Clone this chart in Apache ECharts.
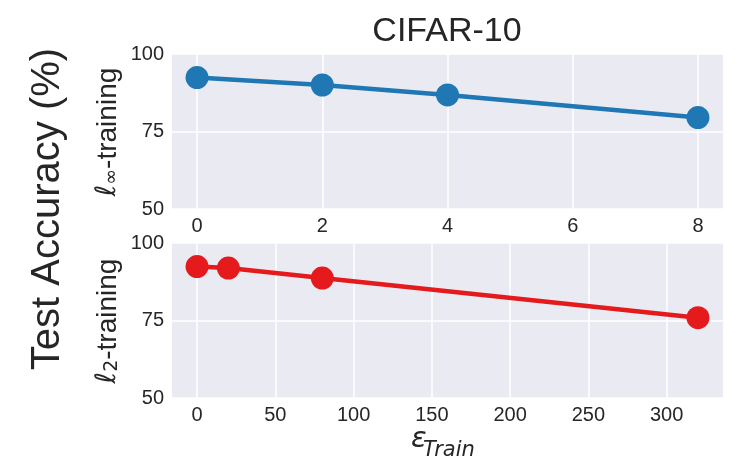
<!DOCTYPE html>
<html>
<head>
<meta charset="utf-8">
<script src="https://cdn.jsdelivr.net/npm/echarts@6/dist/echarts.min.js"></script>
<style>html,body{margin:0;padding:0;background:#fff}#c{width:736px;height:462px}</style>
</head>
<body>
<div id="c"></div>
<script>
// ---- data ----
const linfEps = [0, 2, 4, 8];
const linfAcc = [92.4, 90.0, 86.8, 79.5];
const l2Eps = [0, 20, 80, 320];
const l2Acc = [92.4, 91.9, 88.7, 75.9];
const topXTicks = [0, 2, 4, 6, 8];
const bottomXTicks = [0, 50, 100, 150, 200, 250, 300];
const yTicks = [50, 75, 100];
const titleText = 'CIFAR-10';

const TXT = '#262626';
const BG = '#eaeaf2';
const FONT = 'Liberation Sans, Arial, sans-serif';

const chart = echarts.init(document.getElementById('c'), null, {renderer: 'canvas'});

function xAxisCfg(grid, min, max, ticks) {
  return {
    type: 'value', gridIndex: grid, min: min, max: max,
    axisLine: {show: false},
    axisTick: {show: false, customValues: ticks},
    axisLabel: {customValues: ticks, color: TXT, fontSize: 20, fontFamily: FONT, margin: 7},
    splitLine: {show: true, lineStyle: {color: '#ffffff', width: 1.5}}
  };
}
function yAxisCfg(grid) {
  return {
    type: 'value', gridIndex: grid, min: yTicks[0], max: yTicks[yTicks.length - 1], interval: 25,
    axisLine: {show: false},
    axisTick: {show: false},
    axisLabel: {color: TXT, fontSize: 20, fontFamily: FONT, margin: 8},
    splitLine: {show: true, lineStyle: {color: '#ffffff', width: 1.5}}
  };
}

const option = {
  animation: false,
  backgroundColor: '#ffffff',
  grid: [
    {left: 172, top: 54, width: 551, height: 155, show: true, backgroundColor: BG, borderWidth: 0},
    {left: 172, top: 243, width: 551, height: 155, show: true, backgroundColor: BG, borderWidth: 0}
  ],
  xAxis: [
    xAxisCfg(0, -0.4, 8.4, topXTicks),
    xAxisCfg(1, -16, 336, bottomXTicks)
  ],
  yAxis: [yAxisCfg(0), yAxisCfg(1)],
  series: [
    {
      type: 'line', xAxisIndex: 0, yAxisIndex: 0,
      data: linfEps.map((e, i) => [e, linfAcc[i]]),
      symbol: 'circle', symbolSize: 23,
      lineStyle: {color: '#1f77b4', width: 4.5},
      itemStyle: {color: '#1f77b4'}
    },
    {
      type: 'line', xAxisIndex: 1, yAxisIndex: 1,
      data: l2Eps.map((e, i) => [e, l2Acc[i]]),
      symbol: 'circle', symbolSize: 23,
      lineStyle: {color: '#e41a1c', width: 4.5},
      itemStyle: {color: '#e41a1c'}
    }
  ],
  graphic: [
    {
      type: 'text', x: 447, y: 32,
      style: {text: titleText, fill: TXT, font: '34px ' + FONT, align: 'center', verticalAlign: 'middle'}
    },
    {
      type: 'text', x: 48, y: 209, rotation: Math.PI / 2,
      style: {text: 'Test Accuracy (%)', fill: TXT, font: '40px ' + FONT, align: 'center', verticalAlign: 'middle'}
    },
    {
      type: 'text', x: 108, y: 132, rotation: Math.PI / 2,
      style: {
        text: '{l|ℓ}{s|∞}{t|-training}', fill: TXT, align: 'center', verticalAlign: 'middle',
        rich: {
          l: {fontFamily: 'DejaVu Sans', fontStyle: 'italic', fontSize: 28, lineHeight: 32, fill: TXT},
          s: {fontFamily: 'DejaVu Sans', fontSize: 19, lineHeight: 24, padding: [8, 0, 0, 0], fill: TXT},
          t: {fontFamily: FONT, fontSize: 28, lineHeight: 32, fill: TXT}
        }
      }
    },
    {
      type: 'text', x: 108, y: 321, rotation: Math.PI / 2,
      style: {
        text: '{l|ℓ}{s|2}{t|-training}', fill: TXT, align: 'center', verticalAlign: 'middle',
        rich: {
          l: {fontFamily: 'DejaVu Sans', fontStyle: 'italic', fontSize: 28, lineHeight: 32, fill: TXT},
          s: {fontFamily: 'DejaVu Sans', fontSize: 19, lineHeight: 24, padding: [8, 0, 0, 0], fill: TXT},
          t: {fontFamily: FONT, fontSize: 28, lineHeight: 32, fill: TXT}
        }
      }
    },
    {
      type: 'text', x: 411, y: 439,
      style: {text: 'ε', fill: TXT, font: 'italic 29px DejaVu Sans', align: 'left', verticalAlign: 'middle'}
    },
    {
      type: 'text', x: 423, y: 451,
      style: {text: 'Train', fill: TXT, font: 'italic 21px DejaVu Sans', align: 'left', verticalAlign: 'middle'}
    }
  ]
};
chart.setOption(option);
</script>
</body>
</html>
